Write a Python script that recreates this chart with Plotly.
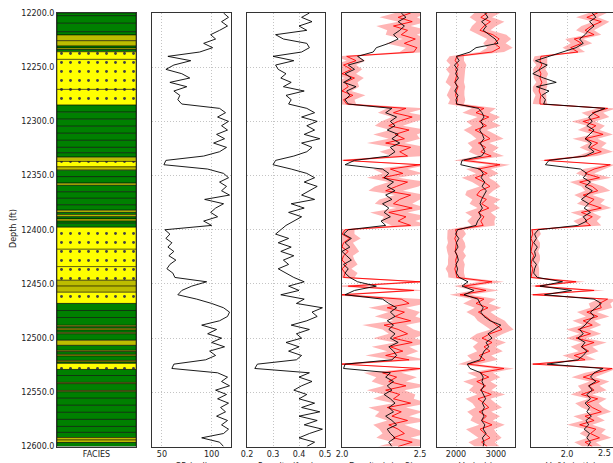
import plotly.graph_objects as go

# ---------------- data ----------------
depth = [12200 + 4 * i for i in range(101)]

gr = [112, 117, 110, 116, 108, 99, 104, 92, 101, 88,
      56, 79, 62, 54, 70, 78, 58, 75, 62, 68, 66, 70,
      108, 114, 106, 117, 110, 116, 105, 113, 102, 115, 108, 92,
      54, 52,
      96, 112, 117, 108, 115, 110, 118, 93, 112, 104, 99, 106, 92, 100,
      53, 58, 54, 60, 56, 62, 57, 64, 58, 55, 61, 63,
      95, 80, 70, 66, 85, 100,
      112, 118, 116, 108, 90, 105, 96, 110, 100, 113, 98, 104, 94,
      62, 60,
      106, 116, 110, 118, 104, 115, 106, 117, 109, 114, 105, 116, 110, 117, 112, 90, 108, 112]

porosity = [0.44, 0.41, 0.45, 0.40, 0.43, 0.31, 0.34, 0.43, 0.44, 0.41,
            0.30, 0.38, 0.31, 0.32, 0.35, 0.33, 0.37, 0.34, 0.42, 0.35, 0.37, 0.36,
            0.43, 0.46, 0.41, 0.47, 0.43, 0.46, 0.42, 0.48, 0.41, 0.45, 0.43, 0.38,
            0.31, 0.30,
            0.37, 0.43, 0.46, 0.42, 0.47, 0.44, 0.41, 0.46, 0.37, 0.42, 0.36, 0.41, 0.38, 0.35,
            0.33, 0.31, 0.36, 0.32, 0.37, 0.33, 0.38, 0.34, 0.36, 0.32, 0.35, 0.38,
            0.42, 0.36, 0.40, 0.33, 0.42, 0.39,
            0.49, 0.45, 0.47, 0.43, 0.37, 0.44, 0.39, 0.41, 0.35, 0.40, 0.36, 0.41, 0.39,
            0.24, 0.23,
            0.44, 0.40, 0.45, 0.41, 0.38, 0.43, 0.40, 0.46, 0.41, 0.48, 0.40, 0.47, 0.42, 0.49, 0.44, 0.40, 0.46, 0.43]

dens = [2.38, 2.41, 2.36, 2.40, 2.37, 2.33, 2.36, 2.30, 2.22, 2.20,
        2.10, 2.14, 2.04, 2.08, 2.02, 2.06, 2.01, 2.09, 2.03, 2.05, 2.02, 2.04,
        2.32, 2.28, 2.35, 2.31, 2.34, 2.29, 2.36, 2.32, 2.37, 2.31, 2.34, 2.30,
        2.08, 2.02,
        2.26, 2.30, 2.27, 2.33, 2.29, 2.34, 2.28, 2.32, 2.26, 2.30, 2.27, 2.31, 2.25, 2.28,
        2.04, 2.01, 2.06, 2.02, 2.05, 2.00, 2.03, 2.06, 2.01, 2.04, 2.02, 2.05,
        2.10, 2.22, 2.08, 2.02, 2.26, 2.30,
        2.35, 2.31, 2.34, 2.29, 2.33, 2.30, 2.34, 2.31, 2.36, 2.30, 2.33, 2.35, 2.32,
        2.02, 2.01,
        2.31, 2.28, 2.33, 2.29, 2.32, 2.27, 2.31, 2.34, 2.30, 2.33, 2.28, 2.32, 2.35, 2.29, 2.31, 2.34, 2.30, 2.32]

dens_red = [2.44, 2.36, 2.45, 2.33, 2.42, 2.38, 2.47, 2.40, 2.48, 2.46,
            2.03, 2.09, 2.01, 2.06, 2.00, 2.08, 2.02, 2.04, 2.00, 2.07, 2.01, 2.03,
            2.41, 2.33, 2.45, 2.36, 2.30, 2.43, 2.34, 2.40, 2.28, 2.44, 2.37, 2.42,
            2.01, 2.50,
            2.31, 2.39, 2.26, 2.42, 2.35, 2.28, 2.44, 2.37, 2.33, 2.45, 2.30, 2.41, 2.36, 2.44,
            2.02, 2.00, 2.05, 2.01, 2.00, 2.04, 2.01, 2.00, 2.03, 2.00, 2.02, 2.01,
            2.50, 2.04, 2.46, 2.00, 2.38, 2.43,
            2.29, 2.40, 2.34, 2.44, 2.27, 2.36, 2.42, 2.33, 2.45, 2.31, 2.39, 2.28, 2.43,
            2.00, 2.50,
            2.26, 2.35, 2.30, 2.41, 2.28, 2.37, 2.33, 2.44, 2.29, 2.38, 2.32, 2.42, 2.30, 2.36, 2.40, 2.33, 2.45, 2.36]

dens_spread = [0.10, 0.12, 0.09, 0.11, 0.13, 0.10, 0.08, 0.12, 0.07, 0.09,
               0.07, 0.06, 0.08, 0.07, 0.09, 0.06, 0.08, 0.07, 0.06, 0.08, 0.07, 0.06,
               0.12, 0.10, 0.13, 0.11, 0.09, 0.12, 0.14, 0.10, 0.12, 0.11, 0.13, 0.10,
               0.06, 0.05,
               0.11, 0.13, 0.10, 0.12, 0.14, 0.11, 0.10, 0.13, 0.12, 0.10, 0.12, 0.14, 0.11, 0.12,
               0.06, 0.08, 0.07, 0.06, 0.09, 0.07, 0.06, 0.08, 0.07, 0.06, 0.08, 0.07,
               0.06, 0.10, 0.08, 0.07, 0.12, 0.11,
               0.12, 0.10, 0.13, 0.11, 0.14, 0.10, 0.12, 0.13, 0.11, 0.12, 0.10, 0.13, 0.11,
               0.05, 0.05,
               0.12, 0.13, 0.11, 0.14, 0.12, 0.10, 0.13, 0.11, 0.12, 0.14, 0.11, 0.13, 0.10, 0.12, 0.14, 0.11, 0.12, 0.13]

vp = [2720, 2800, 2640, 2760, 2680, 2830, 2980, 3050, 2500, 2350,
      2010, 2080, 1960, 2040, 1990, 2060, 1980, 2030, 1970, 2050, 2000, 2020,
      2560, 2650, 2700, 2620, 2680, 2590, 2660, 2700, 2610, 2670, 2720, 2640,
      2150, 2120,
      2600, 2680, 2630, 2720, 2650, 2760, 2690, 2640, 2600, 2660, 2580, 2620, 2540, 2500,
      2040, 1990, 2070, 2010, 2050, 1980, 2030, 2060, 2000, 2040, 2010, 2080,
      2300, 2150, 2450, 2200, 2550, 2600,
      2680, 2620, 2700, 2850, 3120, 2950, 2800, 2900, 2750, 2820, 2700, 2650, 2600,
      2280, 2350,
      2620, 2680, 2650, 2700, 2630, 2690, 2740, 2660, 2710, 2650, 2700, 2640, 2720, 2680, 2750, 2660, 2700, 2680]

vp_red = [2780, 2620, 2860, 2700, 2600, 2920, 3080, 2960, 3100, 2900,
          2020, 1980, 2060, 1990, 2030, 2000, 1970, 2050, 2010, 1990, 2040, 2000,
          2700, 2500, 2820, 2580, 2760, 2480, 2690, 2850, 2560, 2740, 2620, 2880,
          2200, 3100,
          2560, 2780, 2480, 2700, 2850, 2600, 2520, 2760, 2640, 2820, 2550, 2700, 2620, 2680,
          1990, 2020, 1970, 2010, 2000, 1980, 2030, 1990, 2010, 1970, 2000, 2020,
          2900, 2200, 2750, 2100, 2700, 2500,
          2800, 2560, 2740, 2880, 3000, 3150, 2850, 2650, 2900, 2700, 2850, 2580, 2720,
          2300, 3200,
          2600, 2820, 2520, 2740, 2600, 2880, 2550, 2700, 2820, 2580, 2760, 2640, 2900, 2600, 2720, 2850, 2640, 2780]

vp_spread = [320, 280, 350, 300, 260, 340, 300, 280, 320, 300,
             180, 220, 200, 240, 190, 210, 230, 180, 200, 220, 190, 200,
             300, 340, 280, 320, 360, 290, 310, 340, 270, 330, 300, 320,
             250, 250,
             310, 280, 340, 300, 260, 330, 290, 350, 300, 280, 320, 300, 340, 290,
             200, 230, 190, 210, 240, 200, 220, 190, 210, 230, 200, 210,
             300, 250, 320, 260, 300, 320,
             330, 300, 280, 340, 310, 290, 330, 300, 350, 280, 320, 300, 330,
             250, 250,
             320, 290, 340, 300, 280, 350, 310, 290, 330, 300, 340, 280, 320, 350, 300, 290, 330, 310]

vpvs = [2.28, 2.32, 2.25, 2.30, 2.24, 2.20, 2.14, 2.18, 2.10, 1.95,
        1.82, 1.65, 1.78, 1.70, 1.62, 1.74, 1.88, 1.66, 1.80, 1.72, 1.76, 1.74,
        2.42, 2.30, 2.24, 2.28, 2.22, 2.30, 2.25, 2.20, 2.27, 2.24, 2.30, 2.20,
        1.80, 1.76,
        2.15, 2.22, 2.18, 2.26, 2.20, 2.28, 2.22, 2.16, 2.24, 2.19, 2.26, 2.18, 2.22, 2.12,
        1.68, 1.64, 1.66, 1.63, 1.67, 1.64, 1.65, 1.62, 1.66, 1.64, 1.63, 1.67,
        1.95, 1.70, 2.05, 1.75, 2.30, 2.38,
        2.32, 2.26, 2.30, 2.24, 2.20, 2.14, 2.18, 2.12, 2.20, 2.16, 2.22, 2.18, 2.12,
        1.78, 2.40,
        2.30, 2.26, 2.32, 2.24, 2.28, 2.22, 2.26, 2.20, 2.25, 2.22, 2.27, 2.21, 2.24, 2.19, 2.25, 2.22, 2.26, 2.23]

vpvs_red = [2.34, 2.22, 2.38, 2.27, 2.20, 2.30, 2.08, 2.16, 2.04, 2.12,
            1.71, 1.70, 1.72, 1.69, 1.71, 1.70, 1.72, 1.70, 1.69, 1.71, 1.70, 1.70,
            2.45, 2.28, 2.36, 2.18, 2.32, 2.24, 2.40, 2.20, 2.34, 2.26, 2.38, 2.22,
            1.75, 2.48,
            2.30, 2.20, 2.36, 2.14, 2.28, 2.34, 2.18, 2.30, 2.24, 2.38, 2.16, 2.28, 2.20, 2.26,
            1.61, 1.62, 1.60, 1.62, 1.61, 1.60, 1.63, 1.61, 1.60, 1.62, 1.61, 1.60,
            2.10, 1.65, 2.30, 1.62, 2.45, 2.36,
            2.38, 2.22, 2.34, 2.18, 2.28, 2.12, 2.26, 2.10, 2.30, 2.16, 2.24, 2.08, 2.20,
            1.62, 2.50,
            2.32, 2.18, 2.36, 2.24, 2.30, 2.16, 2.34, 2.22, 2.28, 2.38, 2.20, 2.30, 2.14, 2.32, 2.26, 2.36, 2.20, 2.28]

vpvs_spread = [0.10, 0.12, 0.09, 0.11, 0.10, 0.08, 0.10, 0.12, 0.09, 0.08,
               0.07, 0.08, 0.06, 0.07, 0.08, 0.07, 0.06, 0.08, 0.07, 0.06, 0.07, 0.08,
               0.10, 0.12, 0.11, 0.13, 0.10, 0.12, 0.11, 0.14, 0.10, 0.12, 0.13, 0.11,
               0.06, 0.05,
               0.12, 0.10, 0.13, 0.11, 0.12, 0.14, 0.10, 0.12, 0.13, 0.11, 0.12, 0.10, 0.13, 0.12,
               0.08, 0.09, 0.07, 0.08, 0.09, 0.08, 0.07, 0.09, 0.08, 0.07, 0.08, 0.09,
               0.10, 0.08, 0.12, 0.08, 0.10, 0.12,
               0.12, 0.11, 0.13, 0.12, 0.10, 0.13, 0.12, 0.11, 0.14, 0.12, 0.11, 0.13, 0.12,
               0.06, 0.05,
               0.12, 0.13, 0.11, 0.12, 0.14, 0.12, 0.10, 0.13, 0.12, 0.11, 0.13, 0.12, 0.14, 0.11, 0.12, 0.13, 0.12, 0.11]

# facies intervals: top depth and code (G = shale, O = shaly sand, Y = sand)
fac_top = [12200, 12202.5, 12209.5, 12217.3, 12220.3, 12225.6, 12230.5, 12232.3, 12233.7,
           12235.8, 12242.8, 12270.5, 12285, 12291.5, 12298, 12304.5, 12311, 12317.5, 12324,
           12329, 12333, 12337, 12342, 12345, 12351, 12357, 12359, 12365, 12371, 12377,
           12382, 12384, 12386, 12388, 12390, 12392, 12394, 12397.7, 12418, 12434, 12446.6,
           12452, 12457.7, 12468, 12474.5, 12481, 12488.2, 12489.5, 12491, 12492.5, 12494.7,
           12496, 12502, 12506.7, 12511.3, 12512.5, 12515, 12516.5, 12520.6, 12522, 12523.3,
           12528.9, 12534.5, 12540.9, 12542, 12548.3, 12549.5, 12555.5, 12562, 12568.5,
           12575, 12581.5, 12587, 12591.7, 12594, 12596.3]
fac_code = ['G', 'G', 'G', 'G', 'O', 'O', 'G', 'O', 'G',
            'Y', 'Y', 'Y', 'G', 'G', 'G', 'G', 'G', 'G', 'G',
            'G', 'O', 'Y', 'O', 'G', 'G', 'O', 'G', 'G', 'G', 'G',
            'O', 'G', 'O', 'G', 'O', 'G', 'G', 'Y', 'Y', 'Y', 'O',
            'O', 'Y', 'G', 'G', 'G', 'O', 'G', 'O', 'G', 'O',
            'G', 'O', 'G', 'O', 'G', 'O', 'G', 'O', 'G', 'Y',
            'G', 'G', 'O', 'G', 'O', 'G', 'G', 'G', 'G',
            'G', 'G', 'G', 'O', 'O', 'G']
fac_bottom_depth = 12600

track_titles = ['GR (api)', 'Porosity (frac)', 'Density (g/cm3)', 'Vp (m/s)', 'Vp/Vs (ratio)']

# ---------------- layout geometry (pixels) ----------------
W, H = 613, 463
tracks_px = [(57, 136), (152, 231), (247, 325), (342, 420), (437, 515), (531, 613)]
y_top_px, y_bot_px = 13, 446.5
FONT = dict(family='DejaVu Sans', size=8, color='#222222')
fac_colors = {'G': '#008000', 'O': '#BDBD00', 'Y': '#FFFF00'}
GRID = dict(gridcolor='#C4C4C4', griddash='1px,2px', gridwidth=1)

fig = go.Figure()

# facies track
bottoms = fac_top[1:] + [fac_bottom_depth]
centers = [(a + b) / 2 for a, b in zip(fac_top, bottoms)]
thick = [b - a for a, b in zip(fac_top, bottoms)]
fig.add_trace(go.Bar(
    orientation='h', x=[1] * len(fac_top), y=centers, width=thick, base=0,
    marker=dict(color=[fac_colors[c] for c in fac_code],
                line=dict(color='black', width=0.5),
                pattern=dict(shape=['.' if c == 'Y' else '' for c in fac_code],
                             fgcolor='black', fgopacity=1, size=9, solidity=0.08)),
    xaxis='x', yaxis='y', showlegend=False, hoverinfo='skip'))

def black_curve(xv, ax, ay):
    fig.add_trace(go.Scatter(x=xv, y=depth, mode='lines', xaxis=ax, yaxis=ay,
                             line=dict(color='black', width=0.9), showlegend=False))

def band_curve(red, spread, ax, ay):
    lo = [r - s for r, s in zip(red, spread)]
    hi = [r + s for r, s in zip(red, spread)]
    fig.add_trace(go.Scatter(x=lo, y=depth, mode='lines', xaxis=ax, yaxis=ay,
                             line=dict(color='rgba(0,0,0,0)', width=0), showlegend=False))
    fig.add_trace(go.Scatter(x=hi, y=depth, mode='lines', xaxis=ax, yaxis=ay, fill='tonextx',
                             fillcolor='rgba(255,120,120,0.55)',
                             line=dict(color='rgba(0,0,0,0)', width=0), showlegend=False))
    fig.add_trace(go.Scatter(x=red, y=depth, mode='lines', xaxis=ax, yaxis=ay,
                             line=dict(color='red', width=0.9), showlegend=False))

black_curve(gr, 'x2', 'y2')
black_curve(porosity, 'x3', 'y3')
band_curve(dens_red, dens_spread, 'x4', 'y4')
black_curve(dens, 'x4', 'y4')
band_curve(vp_red, vp_spread, 'x5', 'y5')
black_curve(vp, 'x5', 'y5')
band_curve(vpvs_red, vpvs_spread, 'x6', 'y6')
black_curve(vpvs, 'x6', 'y6')

ydom = [1 - y_bot_px / H, 1 - y_top_px / H]
x_ranges = [[0, 1], [40, 119.5], [0.2, 0.5], [2.0, 2.5], [1525, 3475], [1.6, 2.51]]
x_ticks = [None, [50, 100], [0.2, 0.3, 0.4, 0.5], [2.0, 2.5], [2000, 3000], [2.0]]
x_fmt = [None, 'd', '.1f', '.1f', 'd', '.1f']

lay = dict(width=W, height=H, margin=dict(l=0, r=0, t=0, b=0),
           paper_bgcolor='white', plot_bgcolor='white', font=FONT, barmode='overlay')
for i, (x0, x1) in enumerate(tracks_px):
    n = '' if i == 0 else str(i + 1)
    xa = dict(domain=[x0 / W, min(x1 / W, 1.0)], range=x_ranges[i], anchor='y' + n,
              showline=True, mirror=True, linecolor='#333333', linewidth=1,
              zeroline=False, ticks='', tickfont=FONT, automargin=False, fixedrange=True)
    if i == 0:
        xa.update(tickmode='array', tickvals=[0.5], ticktext=['FACIES'], showgrid=False)
    else:
        xa.update(tickmode='array', tickvals=x_ticks[i], tickformat=x_fmt[i],
                  showgrid=True, **GRID)
    ya = dict(domain=ydom, range=[12600, 12200], anchor='x' + n,
              showline=True, mirror=(i < 5), linecolor='#333333', linewidth=1,
              zeroline=False, ticks='', tickmode='array',
              tickvals=list(range(12200, 12601, 50)), tickformat='.1f',
              tickfont=FONT, automargin=False, showgrid=(i > 0), **GRID)
    if i > 0:
        ya.update(matches='y', showticklabels=False)
    lay['xaxis' + n] = xa
    lay['yaxis' + n] = ya

annotations = [dict(text='Depth (ft)', x=13 / W, y=(1 - 229 / H), xref='paper', yref='paper',
                    textangle=-90, showarrow=False, font=FONT, xanchor='center', yanchor='middle'),
               # last tick label of the Vp/Vs track sits at the right edge of the page
               dict(text='2.5', x=1.0, y=1 - 453 / H, xref='paper', yref='paper',
                    showarrow=False, font=FONT, xanchor='right', yanchor='middle')]
for (x0, x1), t in zip(tracks_px[1:5], track_titles[:4]):
    annotations.append(dict(text=t, x=(x0 + x1) / 2 / W, y=1 - 460 / H, xref='paper', yref='paper',
                            showarrow=False, font=FONT, xanchor='center', yanchor='top'))
annotations.append(dict(text=track_titles[4], x=(531 + 610) / 2 / W, y=1 - 460 / H, xref='paper',
                        yref='paper', showarrow=False, font=FONT, xanchor='center', yanchor='top'))
lay['annotations'] = annotations
fig.update_layout(**lay)

fig.write_html('out.html')
